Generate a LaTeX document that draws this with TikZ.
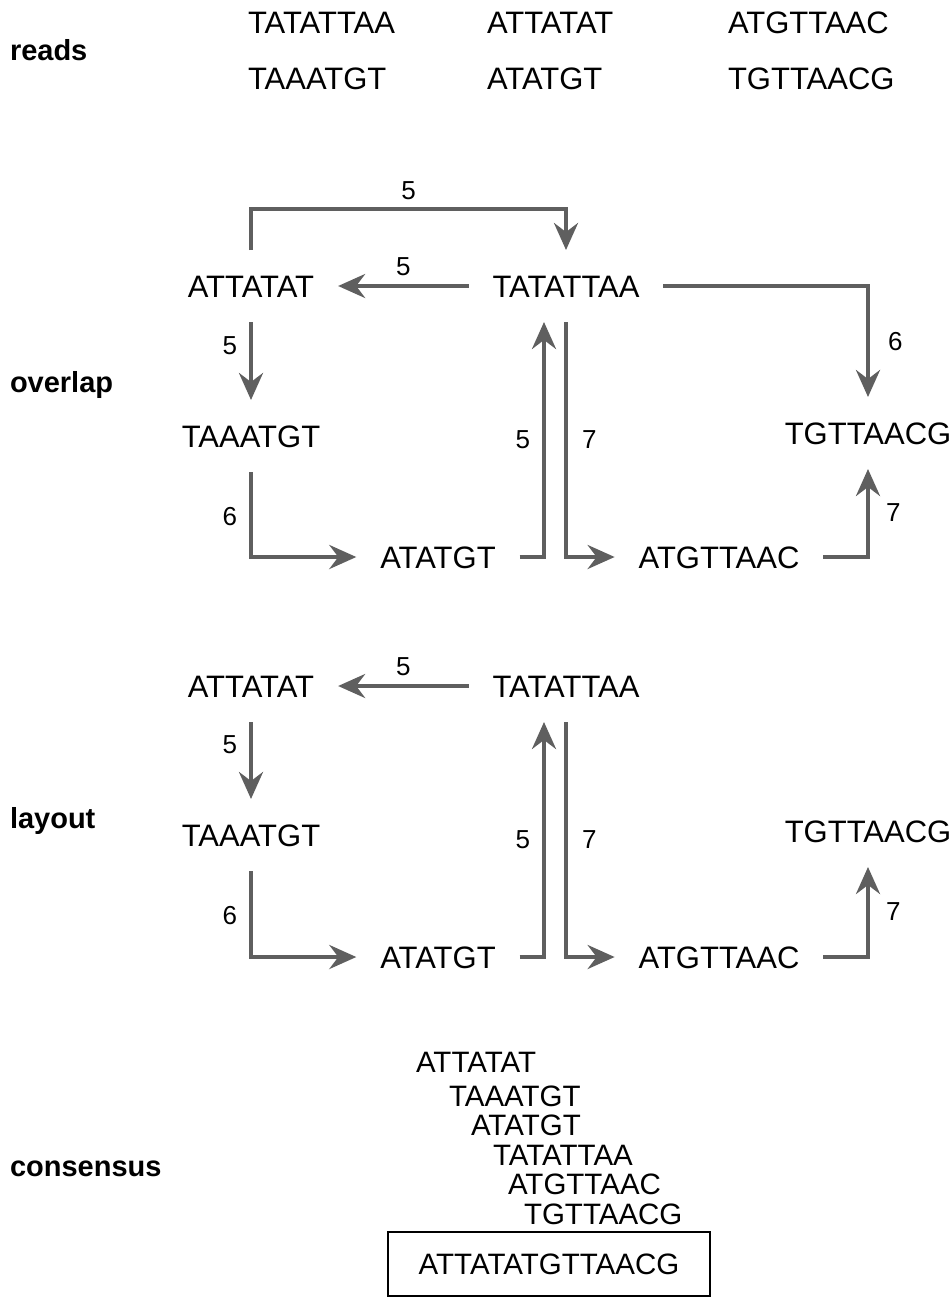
\documentclass[tikz,border=0pt]{standalone}
\usepackage{fontspec}
\setmainfont{Liberation Sans}
\usetikzlibrary{arrows.meta}
\definecolor{edgegray}{HTML}{5F5F5F}

\begin{document}
\begin{tikzpicture}[x=1pt,y=-1pt,inner sep=0pt,outer sep=0pt,
seq/.style={font=\fontsize{31}{37}\selectfont,text height=22pt,text depth=0pt,outer xsep=24pt,outer ysep=25pt},
readtxt/.style={font=\fontsize{31}{37}\selectfont,text height=22pt,text depth=0pt,anchor=west},
constxt/.style={font=\fontsize{29.5}{35}\selectfont,text height=21pt,text depth=0pt,anchor=west},
num/.style={font=\fontsize{26}{31}\selectfont},
rowlbl/.style={font=\fontsize{29}{35}\selectfont\bfseries,anchor=base west},
arr/.style={draw=edgegray,line width=4pt,-{Stealth[length=27pt,width=24pt,inset=9pt]}}]
\useasboundingbox (0,0) rectangle (951,1304);

% reads
\draw (10,60) node[rowlbl] (lreads) {reads};
\draw (248,22) node[readtxt] (r1) {TATATTAA};
\draw (487,22) node[readtxt] (r2) {ATTATAT};
\draw (728,22) node[readtxt] (r3) {ATGTTAAC};
\draw (248,78) node[readtxt] (r4) {TAAATGT};
\draw (487,78) node[readtxt] (r5) {ATATGT};
\draw (728,78) node[readtxt] (r6) {TGTTAACG};

% overlap
\draw (10,392) node[rowlbl] (lover) {overlap};
\draw (251,286) node[seq] (oA) {ATTATAT};
\draw (566,286) node[seq] (oB) {TATATTAA};
\draw (251,436) node[seq] (oC) {TAAATGT};
\draw (868,433) node[seq] (oD) {TGTTAACG};
\draw (438,557) node[seq] (oE) {ATATGT};
\draw (719,557) node[seq] (oF) {ATGTTAAC};

\draw[arr] (oA.north) -- ++(0,-41) -| (oB.north) node[num,pos=0.25,above=9pt] {5};
\draw[arr] (oB.west) -- (oA.east) node[num,midway,above=10pt] {5};
\draw[arr] (oA.south) -- (oC.north) node[num,pos=0.3,left=14pt] {5};
\draw[arr] (oC.south) |- (oE.west) node[num,pos=0.26,left=14pt] {6};
\draw[arr] (oE.east) -| ([xshift=-22pt]oB.south) node[num,pos=0.75,left=14pt] {5};
\draw[arr] (oB.south) |- (oF.west) node[num,pos=0.25,right=16pt] {7};
\draw[arr] (oB.east) -| (oD.north) node[num,pos=0.75,right=20pt] {6};
\draw[arr] (oF.east) -| (oD.south) node[num,pos=0.75,right=18pt] {7};

% layout
\draw (10,828) node[rowlbl] (llay) {layout};
\draw (251,686) node[seq] (lA) {ATTATAT};
\draw (566,686) node[seq] (lB) {TATATTAA};
\draw (251,835) node[seq] (lC) {TAAATGT};
\draw (868,831) node[seq] (lD) {TGTTAACG};
\draw (438,957) node[seq] (lE) {ATATGT};
\draw (719,957) node[seq] (lF) {ATGTTAAC};

\draw[arr] (lB.west) -- (lA.east) node[num,midway,above=10pt] {5};
\draw[arr] (lA.south) -- (lC.north) node[num,pos=0.3,left=14pt] {5};
\draw[arr] (lC.south) |- (lE.west) node[num,pos=0.26,left=14pt] {6};
\draw[arr] (lE.east) -| ([xshift=-22pt]lB.south) node[num,pos=0.75,left=14pt] {5};
\draw[arr] (lB.south) |- (lF.west) node[num,pos=0.25,right=16pt] {7};
\draw[arr] (lF.east) -| (lD.south) node[num,pos=0.75,right=18pt] {7};

% consensus
\draw (10,1176) node[rowlbl] (lcons) {consensus};
\draw (416,1062) node[constxt] (c1) {ATTATAT};
\draw (449,1096) node[constxt] (c2) {TAAATGT};
\draw (471,1125) node[constxt] (c3) {ATATGT};
\draw (493,1155) node[constxt] (c4) {TATATTAA};
\draw (508,1184) node[constxt] (c5) {ATGTTAAC};
\draw (524,1214) node[constxt] (c6) {TGTTAACG};
\draw (549,1264) node[draw,line width=1.2pt,minimum width=322pt,minimum height=64pt,
  font=\fontsize{29.5}{35}\selectfont] (cons) {ATTATATGTTAACG};
\end{tikzpicture}
\end{document}
